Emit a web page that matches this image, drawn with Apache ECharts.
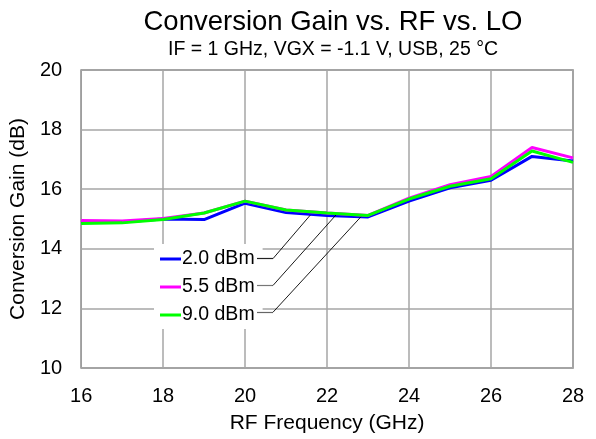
<!DOCTYPE html>
<html><head><meta charset="utf-8">
<script src="https://cdn.jsdelivr.net/npm/echarts@6/dist/echarts.min.js"></script>
<style>html,body{margin:0;padding:0;background:#fff}#c{width:596px;height:439px}</style>
</head><body><div id="c"></div>
<script>
const rfFreq = [16, 17, 18, 19, 20, 21, 22, 23, 24, 25, 26, 27, 28];
const gain2p0 = [14.9, 14.9, 15.0, 14.98, 15.53, 15.22, 15.12, 15.07, 15.6, 16.05, 16.3, 17.1, 16.95];
const gain5p5 = [14.95, 14.93, 15.02, 15.2, 15.6, 15.3, 15.2, 15.12, 15.7, 16.15, 16.43, 17.4, 17.05];
const gain9p0 = [14.85, 14.87, 14.98, 15.2, 15.6, 15.3, 15.2, 15.12, 15.67, 16.1, 16.35, 17.28, 16.9];
const seriesNames = ['2.0 dBm', '5.5 dBm', '9.0 dBm'];
const seriesColors = ['#0000ff', '#ff00ff', '#00ff00'];
// leader lines from legend labels to curves: [labelEnd, elbow, curvePoint] in data units
const leaders = [
  [[20.29, 13.67], [20.68, 13.67], [21.59, 15.13]],
  [[20.29, 12.77], [20.68, 12.77], [22.24, 15.17]],
  [[20.29, 11.87], [20.68, 11.87], [22.83, 15.08]]
];
const leaderStubColors = ['#222', '#777', '#666'];
const FONT = 'Liberation Sans, Arial, sans-serif';
const pairs = (xs, ys) => xs.map((x, i) => [x, ys[i]]);
const allData = [gain2p0, gain5p5, gain9p0];
const chart = echarts.init(document.getElementById('c'));
const series = seriesNames.map((n, i) => ({
  name: n, type: 'line', data: pairs(rfFreq, allData[i]), symbol: 'none',
  lineStyle: { color: seriesColors[i], width: 3 }, itemStyle: { color: seriesColors[i] },
  z: 3 + i
}));
const leaderSegs = [];
leaders.forEach((l, i) => {
  leaderSegs.push([{ coord: l[0], lineStyle: { color: leaderStubColors[i], width: 1.2 } }, { coord: l[1] }]);
  leaderSegs.push([{ coord: l[1], lineStyle: { color: '#000', width: 0.9 } }, { coord: l[2] }]);
});
series.push({
  type: 'line', data: [], silent: true,
  markLine: { symbol: 'none', silent: true, animation: false, label: { show: false },
    lineStyle: { type: 'solid', color: '#000', width: 1 }, data: leaderSegs }, z: 10
});
chart.setOption({
  animation: false,
  title: [{
    text: 'Conversion Gain vs. RF vs. LO', left: 328, top: 3, textAlign: 'center',
    textStyle: { fontFamily: FONT, fontSize: 27.5, fontWeight: 'normal', color: '#000' }
  }, {
    text: 'IF = 1 GHz, VGX = -1.1 V, USB, 25 °C', left: 328, top: 35, textAlign: 'center',
    textStyle: { fontFamily: FONT, fontSize: 19.5, fontWeight: 'normal', color: '#000' }
  }],
  legend: {
    data: seriesNames, orient: 'vertical', left: 154, top: 244, icon: 'rect',
    itemWidth: 21, itemHeight: 3, itemGap: 8, padding: [5, 8, 4, 6],
    backgroundColor: '#fff', selectedMode: false,
    textStyle: { fontFamily: FONT, fontSize: 19.5, color: '#000', padding: [0, 0, 0, -4] }
  },
  grid: { left: 81, right: 23, top: 70, bottom: 69, containLabel: false,
    show: true, borderColor: '#7f7f7f', borderWidth: 1.5 },
  xAxis: {
    type: 'value', min: 16, max: 28, interval: 2,
    name: 'RF Frequency (GHz)', nameLocation: 'middle', nameGap: 45,
    nameTextStyle: { fontFamily: FONT, fontSize: 21, color: '#000' },
    axisLine: { show: false }, axisTick: { show: false },
    axisLabel: { fontFamily: FONT, fontSize: 20, color: '#000', margin: 18 },
    splitLine: { show: true, lineStyle: { color: '#a6a6a6', width: 1.5 } }
  },
  yAxis: {
    type: 'value', min: 10, max: 20, interval: 2,
    name: 'Conversion Gain (dB)', nameLocation: 'middle', nameGap: 47,
    nameTextStyle: { fontFamily: FONT, fontSize: 21, color: '#000' },
    axisLine: { show: false }, axisTick: { show: false },
    axisLabel: { fontFamily: FONT, fontSize: 20, color: '#000', margin: 19 },
    splitLine: { show: true, lineStyle: { color: '#a6a6a6', width: 1.5 } }
  },
  series: series
});
</script></body></html>
